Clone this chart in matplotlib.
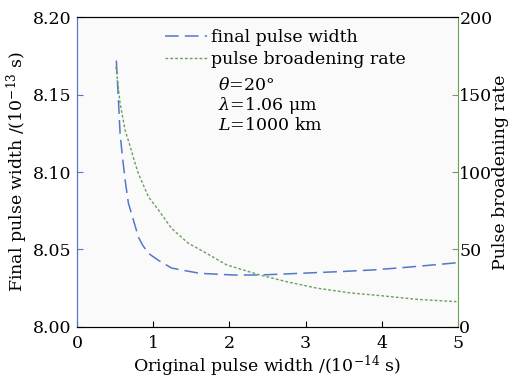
import matplotlib.pyplot as plt

# values
width_x = [0.515, 0.543, 0.564, 0.595, 0.63, 0.673, 0.739, 0.805, 0.857, 0.936, 1.067, 1.24, 1.42,
           1.61, 2.05, 2.40, 2.93, 3.45, 3.89, 4.33, 4.895, 5.0]
final_width = [8.172, 8.146, 8.125, 8.110, 8.095, 8.080, 8.069, 8.058, 8.053, 8.0475, 8.043, 8.038, 8.0363,
               8.0346, 8.0335, 8.0335, 8.0346, 8.0357, 8.0368, 8.0385, 8.041, 8.0415]
rate_x = [0.51, 0.564, 0.63, 0.70, 0.752, 0.805, 0.936, 1.067, 1.24, 1.46, 1.66, 1.965, 2.40, 2.75,
          3.15, 3.58, 4.02, 4.46, 4.98]
broad_rate = [168, 144.5, 127, 116, 107, 99, 84, 75.5, 63.6, 54, 48.6, 40, 33.5, 29.2,
              25, 22, 20, 17.8, 16.3]

blue = '#5577c8'
green = '#6a9f5c'

plt.rcParams['font.family'] = 'DejaVu Serif'
plt.rcParams['mathtext.fontset'] = 'dejavuserif'
plt.rcParams['font.size'] = 12

def main():
    fig = plt.figure(figsize=(5.14, 3.81), dpi=100, facecolor='white')
    ax = fig.add_axes([0.150, 0.142, 0.741, 0.813])
    ax.set_facecolor('#fafafa')
    ax2 = ax.twinx()

    l1, = ax.plot(width_x, final_width, color=blue, lw=1.1, dashes=(9, 4), label='final pulse width')
    l2, = ax2.plot(rate_x, broad_rate, color=green, lw=1.0, dashes=(2, 1.5), label='pulse broadening rate')

    ax.set_xlim(0, 5)
    ax.set_ylim(8.00, 8.20)
    ax2.set_ylim(0, 200)
    ax.set_xticks([0, 1, 2, 3, 4, 5])
    ax.set_yticks([8.00, 8.05, 8.10, 8.15, 8.20])
    ax.set_yticklabels(['8.00', '8.05', '8.10', '8.15', '8.20'])
    ax2.set_yticks([0, 50, 100, 150, 200])

    ax.tick_params(axis='x', direction='in', length=4, color='black', pad=5.5, labelsize=12.5)
    ax.tick_params(axis='y', direction='in', length=4, color=blue, pad=4, labelsize=12.5)
    ax2.tick_params(axis='y', direction='in', length=4, color=green, pad=1, labelsize=12.5)

    ax.spines['left'].set_color(blue)
    ax2.spines['left'].set_color(blue)
    ax2.spines['right'].set_color(green)
    ax.spines['right'].set_visible(False)

    ax.set_xlabel('Original pulse width /(10$^{-14}$ s)', labelpad=1.5, fontsize=12.5)
    ax.set_ylabel('Final pulse width /(10$^{-13}$ s)', labelpad=2, fontsize=12.5)
    ax2.set_ylabel('Pulse broadening rate', labelpad=0, fontsize=12.5)

    ax.legend(handles=[l1, l2], loc='upper left', bbox_to_anchor=(0.20, 1.0),
              frameon=False, handlelength=2.4, handletextpad=0.2, labelspacing=0.25,
              fontsize=12.5, borderaxespad=0.3)

    ax.text(0.37, 0.765, '$\\theta$=20°', transform=ax.transAxes, fontsize=12.5)
    ax.text(0.37, 0.70, '$\\lambda$=1.06 μm', transform=ax.transAxes, fontsize=12.5)
    ax.text(0.37, 0.635, '$L$=1000 km', transform=ax.transAxes, fontsize=12.5)

    fig.savefig('out.png', dpi=100)

if __name__ == '__main__':
    main()
